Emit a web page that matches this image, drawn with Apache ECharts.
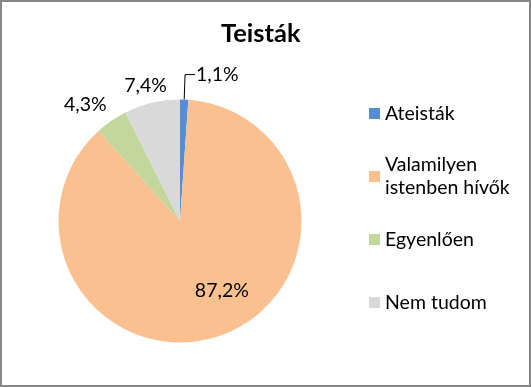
<!DOCTYPE html>
<html>
<head>
<meta charset="utf-8">
<script src="https://cdn.jsdelivr.net/npm/echarts@6/dist/echarts.min.js"></script>
<style>
  html, body { margin: 0; padding: 0; background: #fff; }
  #wrap { position: relative; width: 531px; height: 387px; }
  #chart { position: absolute; left: 0; top: 0; width: 531px; height: 387px; }
  #frame { position: absolute; left: 0; top: 0; width: 531px; height: 387px; box-sizing: border-box; border: 2px solid #868686; pointer-events: none; }
</style>
</head>
<body>
<div id="wrap"><div id="chart"></div><div id="frame"></div></div>
<script>
const titleText = 'Teisták';
const categories = ['Ateisták', 'Valamilyen istenben hívők', 'Egyenlően', 'Nem tudom'];
const legendLabels = ['Ateisták', 'Valamilyen\nistenben hívők', 'Egyenlően', 'Nem tudom'];
const values = [1.1, 87.2, 4.3, 7.4];
const colors = ['#558ED5', '#FAC090', '#C3D69B', '#D9D9D9'];

const FONT = 'Lato';
const chart = echarts.init(document.getElementById('chart'), null, { renderer: 'canvas' });

const labelCfg = [
  { label: { position: 'outside', distanceToLabelLine: 1, padding: [0, 0, 14, 0] },
    labelLine: { show: true, length: 25, length2: 10, lineStyle: { color: '#000', width: 1 } } },
  { label: { position: 'inside' }, labelLine: { show: false } },
  { label: { position: 'outside', distanceToLabelLine: 0 }, labelLine: { show: false, length: 19, length2: -6 } },
  { label: { position: 'outside', distanceToLabelLine: 0 }, labelLine: { show: false, length: 18, length2: -19 } }
];

const seriesData = categories.map((c, i) => ({
  name: c,
  value: values[i],
  itemStyle: { color: colors[i] },
  label: labelCfg[i].label,
  labelLine: labelCfg[i].labelLine
}));

const legendTops = [102, 142, 228, 291];
const legends = categories.map((c, i) => ({
  orient: 'vertical',
  left: 369,
  top: legendTops[i],
  padding: 0,
  icon: 'rect',
  itemWidth: 11,
  itemHeight: 11,
  selectedMode: false,
  data: [{ name: c, textStyle: i === 1 ? { padding: [23, 0, 0, 0] } : {} }],
  formatter: n => legendLabels[categories.indexOf(n)],
  textStyle: { fontFamily: FONT, fontSize: 19.5, color: '#000', lineHeight: 23 }
}));

chart.setOption({
  backgroundColor: '#fff',
  animation: false,
  title: {
    text: titleText,
    left: 221,
    top: 21,
    padding: 0,
    textStyle: { fontFamily: FONT, fontSize: 25.5, fontWeight: 'bold', color: '#000' }
  },
  legend: legends,
  series: [{
    type: 'pie',
    center: [180, 221],
    radius: 121.5,
    startAngle: 90,
    clockwise: true,
    avoidLabelOverlap: false,
    itemStyle: { borderWidth: 0 },
    label: {
      show: true,
      fontFamily: FONT,
      fontSize: 19.5,
      color: '#000',
      formatter: p => p.value.toFixed(1).replace('.', ',') + '%'
    },
    labelLayout: p => p.dataIndex === 1 ? { dx: 21, dy: 9 } : {},
    emphasis: { disabled: true },
    data: seriesData
  }]
});
</script>
</body>
</html>
